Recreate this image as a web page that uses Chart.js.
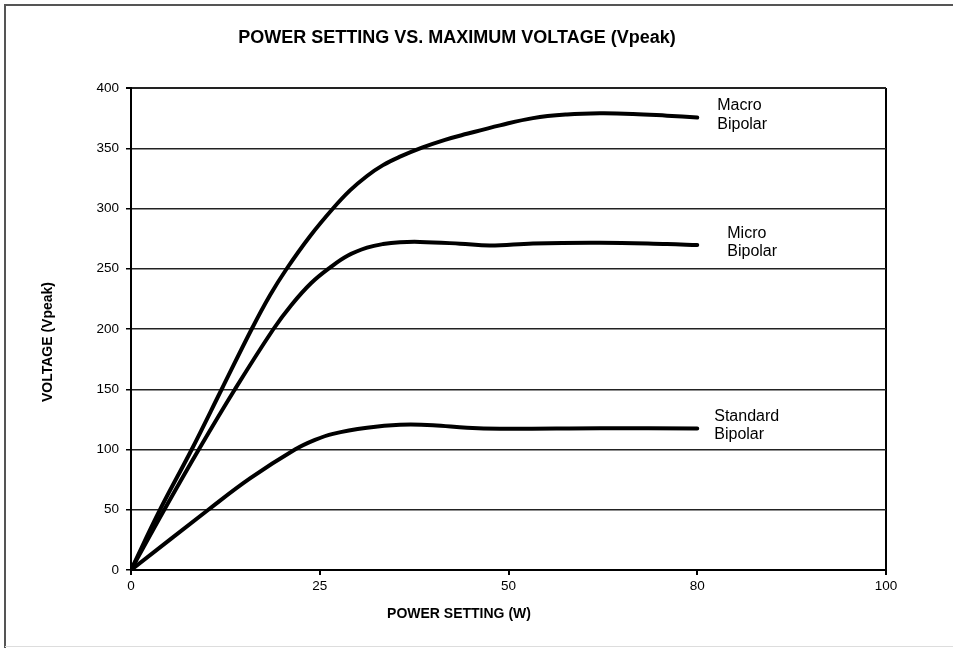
<!DOCTYPE html>
<html>
<head>
<meta charset="utf-8">
<script src="https://cdn.jsdelivr.net/npm/chart.js@4"></script>
<style>
  html, body { margin: 0; padding: 0; background: #fff; }
  canvas { display: block; }
</style>
</head>
<body>
<canvas id="c" width="953" height="648"></canvas>
<script>
// ---- data ----
const xTickLabels = [0, 25, 50, 80, 100];   // evenly spaced tick labels (W)

const macroPower = [0, 3.84, 8.04, 12.01, 15.99, 18.41, 20.62, 23.71, 26.75, 29.01, 31.26, 33.38, 35.63, 38.54, 41.59, 44.5, 48.87, 53.89, 59.3, 64.54, 69.79, 75.19, 80];
const macroVolt  = [0, 50, 100, 150, 200, 228, 250, 277, 300, 315, 327, 336, 343, 350.5, 357, 362, 369, 375, 378, 379, 378.5, 377, 375.5];

const microPower = [0, 4.41, 8.98, 13.77, 18.87, 21.25, 23.84, 26.36, 28.74, 31.26, 33.38, 35.63, 38.28, 43.58, 47.55, 53.89, 64.54, 75.19, 80];
const microVolt  = [0, 50, 100, 150, 200, 220, 238, 251, 261, 267.5, 270.5, 272, 272.3, 270.8, 269.3, 271, 271.6, 270.5, 269.7];

const stdPower = [0, 10.24, 15.76, 21.72, 24.37, 26.75, 31.26, 35.63, 40.0, 44.5, 48.87, 64.54, 80];
const stdVolt  = [0, 50, 76, 100, 108, 113, 118, 120.5, 120.2, 118, 117.2, 117.6, 117.5];

const seriesNames = [["Macro", "Bipolar"], ["Micro", "Bipolar"], ["Standard", "Bipolar"]];

// map a power value (W) onto the evenly spaced tick axis
function toAxis(w) {
  for (let i = 0; i < xTickLabels.length - 1; i++) {
    const a = xTickLabels[i], b = xTickLabels[i + 1];
    if (w <= b) return i + (w - a) / (b - a);
  }
  return xTickLabels.length - 1;
}
function pts(px, vy) { return px.map((p, i) => ({ x: toAxis(p), y: vy[i] })); }

const FONT = '"Liberation Sans", Arial, Helvetica, sans-serif';
const labelDx = [20, 30, 17];

const decor = {
  id: 'decor',
  beforeDraw(chart) {
    const ctx = chart.ctx;
    ctx.save();
    ctx.fillStyle = '#fff';
    ctx.fillRect(0, 0, chart.width, chart.height);
    ctx.restore();
  },
  afterDraw(chart) {
    const ctx = chart.ctx;
    ctx.save();
    // outer frame
    ctx.strokeStyle = '#555';
    ctx.lineWidth = 2;
    ctx.beginPath();
    ctx.moveTo(5, 648); ctx.lineTo(5, 5); ctx.lineTo(953, 5);
    ctx.stroke();
    ctx.strokeStyle = '#ddd';
    ctx.lineWidth = 1;
    ctx.beginPath();
    ctx.moveTo(5, 646.5); ctx.lineTo(953, 646.5);
    ctx.stroke();

    ctx.fillStyle = '#000';
    // title
    ctx.font = 'bold 18px ' + FONT;
    ctx.textAlign = 'center';
    ctx.textBaseline = 'alphabetic';
    ctx.fillText('POWER SETTING VS. MAXIMUM VOLTAGE (Vpeak)', 457, 43);
    // x axis title
    ctx.font = 'bold 14px ' + FONT;
    ctx.fillText('POWER SETTING (W)', 459, 618);
    // y axis title
    ctx.save();
    ctx.translate(52, 342);
    ctx.rotate(-Math.PI / 2);
    ctx.fillText('VOLTAGE (Vpeak)', 0, 0);
    ctx.restore();

    // series labels next to line ends
    ctx.font = '16px ' + FONT;
    ctx.textAlign = 'left';
    chart.data.datasets.forEach((ds, i) => {
      const meta = chart.getDatasetMeta(i);
      const last = meta.data[meta.data.length - 1];
      const names = seriesNames[i];
      ctx.fillText(names[0], last.x + labelDx[i], last.y - 7.5);
      ctx.fillText(names[1], last.x + labelDx[i], last.y + 11);
    });
    ctx.restore();
  }
};

const lineStyle = {
  borderColor: '#000',
  borderWidth: 4,
  borderCapStyle: 'round',
  borderJoinStyle: 'round',
  pointRadius: 0,
  fill: false,
  tension: 0.4
};

new Chart(document.getElementById('c'), {
  type: 'line',
  data: {
    datasets: [
      Object.assign({ label: 'Macro Bipolar', data: pts(macroPower, macroVolt) }, lineStyle),
      Object.assign({ label: 'Micro Bipolar', data: pts(microPower, microVolt) }, lineStyle),
      Object.assign({ label: 'Standard Bipolar', data: pts(stdPower, stdVolt) }, lineStyle)
    ]
  },
  options: {
    responsive: false,
    animation: false,
    events: [],
    layout: { padding: { top: 88, right: 67, bottom: 0, left: 0 } },
    plugins: { legend: { display: false }, title: { display: false }, tooltip: { enabled: false } },
    scales: {
      x: {
        type: 'linear',
        min: 0,
        max: xTickLabels.length - 1,
        afterFit(scale) { scale.height = 78; },
        ticks: {
          stepSize: 1,
          autoSkip: false,
          maxRotation: 0,
          padding: 3,
          color: '#000',
          font: { family: FONT, size: 13.5 },
          callback: (v) => xTickLabels[v]
        },
        grid: {
          color: (c) => (c.index === xTickLabels.length - 1 ? '#000' : 'rgba(0,0,0,0)'),
          lineWidth: 2,
          tickColor: '#000',
          tickLength: 5,
          drawTicks: true
        },
        border: { display: true, color: '#000', width: 2 }
      },
      y: {
        min: 0,
        max: 400,
        afterFit(scale) { scale.width = 131; },
        ticks: {
          stepSize: 50,
          padding: 7,
          color: '#000',
          font: { family: FONT, size: 13.5 }
        },
        grid: {
          color: '#222',
          lineWidth: (c) => (c.index === 8 ? 2 : 1.5),
          tickColor: '#000',
          tickLength: 5
        },
        border: { display: true, color: '#000', width: 2 }
      }
    }
  },
  plugins: [decor]
});
</script>
</body>
</html>
